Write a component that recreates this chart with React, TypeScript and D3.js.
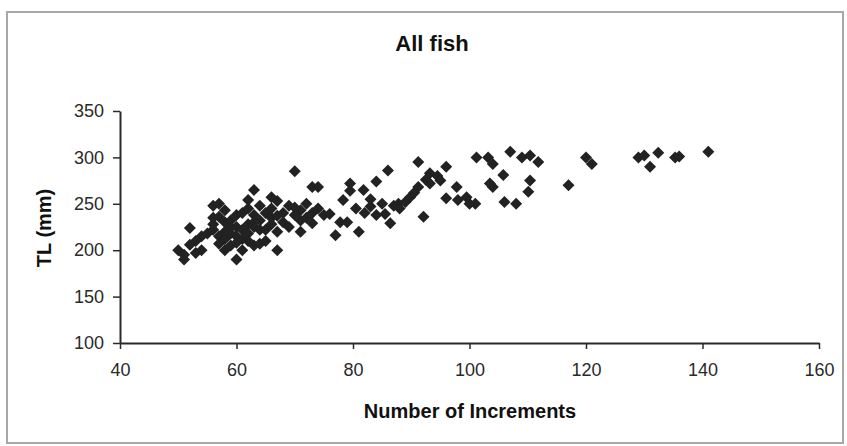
import { useEffect, useRef } from 'react';
import * as d3 from 'd3';

// Number of increments (x) and total length in mm (y)
const increments = [
  50, 51, 51, 52, 52, 53, 53, 54, 54, 55, 56, 56, 56, 56, 57, 57, 57, 57, 58, 58,
  58, 58, 58, 59, 59, 59, 59, 60, 60, 60, 60, 60, 61, 61, 61, 61, 62, 62, 62, 62,
  62, 63, 63, 63, 63, 63, 64, 64, 64, 64, 65, 65, 65, 66, 66, 66, 66, 67, 67, 67,
  67, 68, 68, 69, 69, 70, 70, 70, 71, 71, 71, 72, 72, 73, 73, 73, 74, 74, 75, 76,
  77, 77.8, 78.3, 79, 79.5, 79.5, 80.5, 81, 81.8, 82, 83, 83, 84, 84, 85, 85.5, 86, 86.4,
  87, 87.8, 88, 89, 89.8, 90.5, 91.2, 91.2, 92.1, 92.5, 93.2, 93.2, 94.5, 95, 96, 96,
  97.8, 98, 99.5, 100, 101, 101.2, 103.2, 103.5, 104, 104, 105.8, 106, 107, 108, 109,
  110.4, 110.4, 110.1, 111.8, 117, 120, 121, 129, 130, 131, 132.4, 135.3, 136, 141,
];
const totalLength = [
  200, 190, 195, 224, 206, 210, 197, 200, 215, 218, 222, 228, 235, 248, 250, 215, 207, 236, 230, 220,
  212, 200, 243, 225, 218, 205, 232, 190, 225, 215, 208, 238, 222, 240, 200, 212, 245, 228, 218, 210,
  254, 265, 238, 225, 205, 230, 248, 232, 207, 222, 240, 222, 210, 228, 235, 245, 257, 253, 220, 200,
  237, 240, 230, 248, 225, 285, 238, 246, 232, 220, 243, 250, 235, 268, 229, 240, 245, 268, 238, 239,
  216, 230, 254, 230, 264, 272, 245, 220, 265, 240, 247, 255, 238, 274, 250, 239, 286, 229,
  248, 250, 245, 252, 257, 262, 295, 268, 236, 276, 283, 272, 280, 275, 290, 256,
  268, 254, 257, 250, 250, 300, 300, 272, 293, 268, 281, 252, 306, 250, 300,
  302, 275, 263, 295, 270, 300, 293, 300, 302, 290, 305, 300, 301, 306,
];
const xTicks = [40, 60, 80, 100, 120, 140, 160];
const yTicks = [100, 150, 200, 250, 300, 350];

const W = 847;
const H = 446;
const font = 'Arial, "Liberation Sans", sans-serif';

export default function App() {
  const svgRef = useRef<SVGSVGElement>(null);

  useEffect(() => {
    if (!svgRef.current) return;
    const svg = d3.select(svgRef.current);
    svg.selectAll('*').remove();

    const x = d3.scaleLinear().domain([40, 160]).range([120, 819]);
    const y = d3.scaleLinear().domain([100, 350]).range([343, 111]);

    svg.append('rect').attr('width', W).attr('height', H).attr('fill', '#fff');

    // outer chart frame
    svg.append('rect')
      .attr('x', 7).attr('y', 12)
      .attr('width', 836).attr('height', 431)
      .attr('fill', 'none')
      .attr('stroke', '#a8a8a8')
      .attr('stroke-width', 2);

    // title
    svg.append('text')
      .attr('x', 432).attr('y', 51)
      .attr('text-anchor', 'middle')
      .attr('font-family', font)
      .attr('font-weight', 'bold')
      .attr('font-size', 22)
      .attr('fill', '#111')
      .text('All fish');

    // axes
    const xAxis = svg.append('g')
      .attr('transform', `translate(0,${y(100)})`)
      .call(d3.axisBottom(x).tickValues(xTicks).tickSize(6).tickPadding(14).tickSizeOuter(0));
    const yAxis = svg.append('g')
      .attr('transform', `translate(${x(40)},0)`)
      .call(d3.axisLeft(y).tickValues(yTicks).tickSize(7).tickPadding(9).tickSizeOuter(0));

    [xAxis, yAxis].forEach(g => {
      g.select('.domain').attr('stroke', '#2a2a2a').attr('stroke-width', 2);
      g.selectAll('.tick line').attr('stroke', '#2a2a2a').attr('stroke-width', 1.5);
      g.selectAll('.tick text')
        .attr('font-family', font)
        .attr('font-size', 18)
        .attr('fill', '#2a2a2a');
    });

    // axis titles
    svg.append('text')
      .attr('x', 470).attr('y', 418)
      .attr('text-anchor', 'middle')
      .attr('font-family', font)
      .attr('font-weight', 'bold')
      .attr('font-size', 20)
      .attr('fill', '#111')
      .text('Number of Increments');

    svg.append('text')
      .attr('transform', 'translate(51,228) rotate(-90)')
      .attr('text-anchor', 'middle')
      .attr('font-family', font)
      .attr('font-weight', 'bold')
      .attr('font-size', 20)
      .attr('fill', '#111')
      .text('TL (mm)');

    // diamond markers
    const diamond = d3.symbol().type(d3.symbolSquare).size(72);
    svg.append('g')
      .selectAll('path')
      .data(increments.map((v, i) => [v, totalLength[i]]))
      .join('path')
      .attr('d', diamond)
      .attr('transform', d => `translate(${x(d[0])},${y(d[1])}) rotate(45)`)
      .attr('fill', '#222');
  }, []);

  return (
    <svg
      ref={svgRef}
      width={W}
      height={H}
      style={{ position: 'absolute', left: 0, top: 0 }}
    />
  );
}
